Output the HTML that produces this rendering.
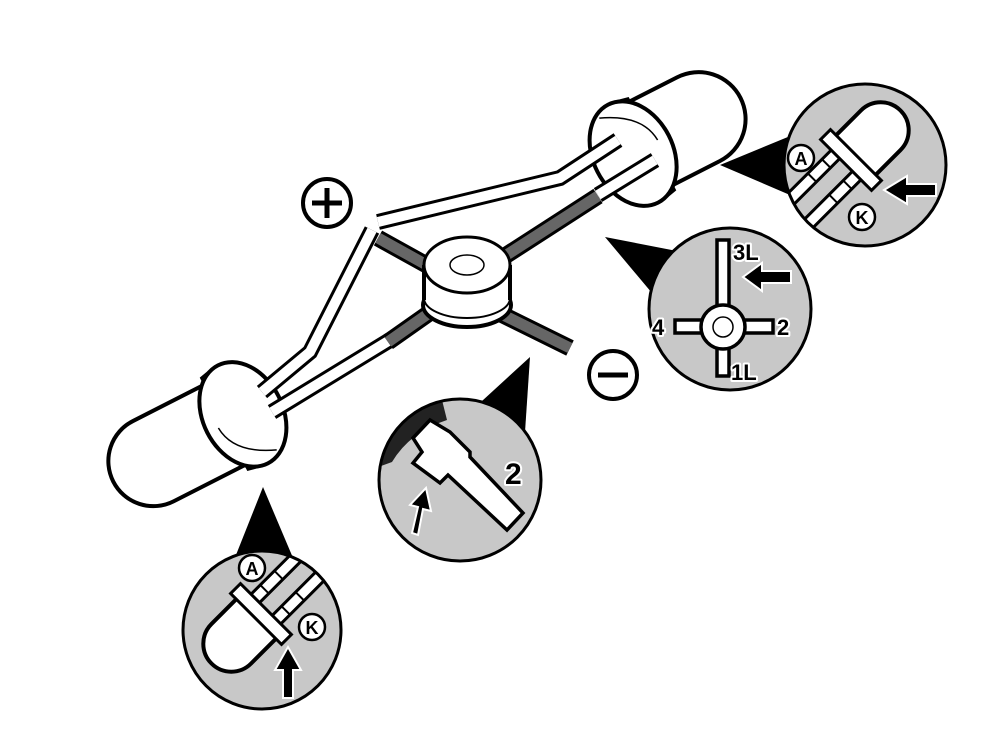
<!DOCTYPE html>
<html><head><meta charset="utf-8"><style>html,body{margin:0;padding:0;background:#fff}svg{display:block}
.lbl{font-family:"Liberation Sans",sans-serif;font-weight:bold;fill:#000;stroke:#fff;stroke-width:4;paint-order:stroke;stroke-linejoin:round}
.cl{font-family:"Liberation Sans",sans-serif;font-weight:bold;font-size:18px;text-anchor:middle;dominant-baseline:central}
</style></head><body>
<svg width="1000" height="750" viewBox="0 0 1000 750" xmlns="http://www.w3.org/2000/svg">
<defs>
<clipPath id="c1"><circle cx="865" cy="165" r="81"/></clipPath>
<clipPath id="c2"><circle cx="730" cy="309" r="81"/></clipPath>
<clipPath id="c3"><circle cx="460" cy="480" r="81"/></clipPath>
<clipPath id="c4"><circle cx="262" cy="630" r="79"/></clipPath>
<g id="mled">
  <path d="M0,-47 H68 A47,47 0 0 1 68,47 H0 Z" fill="#fff" stroke="#000" stroke-width="4"/>
  <path d="M-4,-54 L14,-50 L14,52 L-4,56" fill="#fff" stroke="#000" stroke-width="3.5"/>
  <ellipse cx="-6" cy="1" rx="40" ry="55" fill="#fff" stroke="#000" stroke-width="4"/>
  <path d="M-20,-46 Q20,-30 22,0" fill="none" stroke="#000" stroke-width="1.5"/>
</g>
<g id="mled2">
  <path d="M0,-45 H95 A45,45 0 0 1 95,45 H0 Z" fill="#fff" stroke="#000" stroke-width="4"/>
  <path d="M-4,-54 L14,-50 L14,52 L-4,56" fill="#fff" stroke="#000" stroke-width="3.5"/>
  <ellipse cx="-6" cy="1" rx="40" ry="55" fill="#fff" stroke="#000" stroke-width="4"/>
  <path d="M-20,-46 Q20,-30 22,0" fill="none" stroke="#000" stroke-width="1.5"/>
</g>
<g id="sled">
  <path d="M-5,-15 H-100 M-5,15 H-100" stroke="#000" stroke-width="15" fill="none"/>
  <path d="M-5,-15 H-100 M-5,15 H-100" stroke="#fff" stroke-width="9" fill="none"/>
  <path d="M-20,-20 v10 M-40,-20 v10 M-20,10 v10 M-40,10 v10" stroke="#000" stroke-width="2"/>
  <path d="M6,-28 H42 A28,28 0 0 1 42,28 H6 Z" fill="#fff" stroke="#000" stroke-width="4"/>
  <rect x="-7" y="-36" width="14" height="72" fill="#fff" stroke="#000" stroke-width="3"/>
</g>
</defs>

<path d="M720,165 L800,132 L797,198 Z" fill="#000"/>
<path d="M605,237 L682,252 L662,305 Z" fill="#000"/>
<path d="M530,357 L470,412 L525,432 Z" fill="#000"/>
<path d="M263,487 L232,565 L296,565 Z" fill="#000"/>

<use href="#mled" transform="translate(638,150) rotate(-27)"/>
<use href="#mled2" transform="translate(238,418) rotate(153)"/>

<g fill="none" stroke-linejoin="miter" stroke-linecap="butt">
<path d="M618,140 L560,178 L378,222 M372,230 L310,352 L262,392 M390,340 L272,412 M598,195 L655,160" stroke="#000" stroke-width="16"/>
<path d="M618,140 L560,178 L378,222 M372,230 L310,352 L262,392 M390,340 L272,412 M598,195 L655,160" stroke="#fff" stroke-width="10"/>
<path d="M378,238 L432,268 M505,256 L598,196 M442,304 L388,342 M497,312 L570,348" stroke="#000" stroke-width="17"/>
<path d="M378,238 L432,268 M505,256 L598,196 M442,304 L388,342 M497,312 L570,348" stroke="#666" stroke-width="11"/>
</g>

<ellipse cx="467" cy="305" rx="44" ry="22" fill="#fff" stroke="#000" stroke-width="4"/>
<rect x="424" y="265" width="86" height="38" fill="#fff"/>
<path d="M424,265 V300 M510,265 V300" stroke="#000" stroke-width="4"/>
<path d="M424,298 A43,20 0 0 0 510,298" fill="none" stroke="#000" stroke-width="2"/>
<ellipse cx="467" cy="265" rx="43" ry="28" fill="#fff" stroke="#000" stroke-width="3"/>
<ellipse cx="467" cy="265" rx="17" ry="10" fill="none" stroke="#000" stroke-width="1.5"/>

<circle cx="327" cy="203" r="24" fill="#fff" stroke="#000" stroke-width="4"/>
<path d="M312,203 H342 M327,188 V218" stroke="#000" stroke-width="5"/>
<circle cx="613" cy="375" r="24" fill="#fff" stroke="#000" stroke-width="4"/>
<path d="M598,375 H628" stroke="#000" stroke-width="5"/>

<circle cx="865" cy="165" r="81" fill="#c8c8c8"/>
<g clip-path="url(#c1)"><use href="#sled" transform="translate(851,160) rotate(-45)"/></g>
<circle cx="865" cy="165" r="81" fill="none" stroke="#000" stroke-width="3"/>
<circle cx="801" cy="158" r="13" fill="#fff" stroke="#000" stroke-width="2.5"/>
<text x="801" y="159" class="cl">A</text>
<circle cx="862" cy="217" r="13" fill="#fff" stroke="#000" stroke-width="2.5"/>
<text x="862" y="218" class="cl">K</text>
<path d="M936,184 H907 V176 L884,190 L907,204 V196 H936 Z" fill="#000" stroke="#fff" stroke-width="2"/>

<circle cx="730" cy="309" r="81" fill="#c8c8c8"/>
<g clip-path="url(#c2)">
<rect x="717" y="240" width="12" height="136" fill="#fff" stroke="#000" stroke-width="3.5"/>
<rect x="675" y="320" width="98" height="13" fill="#fff" stroke="#000" stroke-width="3.5"/>
<circle cx="723" cy="327" r="22" fill="#fff" stroke="#000" stroke-width="3.5"/>
<circle cx="723" cy="327" r="10" fill="#fff" stroke="#000" stroke-width="1.5"/>
</g>
<circle cx="730" cy="309" r="81" fill="none" stroke="#000" stroke-width="3"/>
<path d="M791,271 H762 V263 L743,277 L762,291 V283 H791 Z" fill="#000" stroke="#fff" stroke-width="2"/>
<text x="733" y="260" class="lbl" font-size="22">3L</text>
<text x="777" y="335" class="lbl" font-size="22">2</text>
<text x="652" y="335" class="lbl" font-size="22">4</text>
<text x="731" y="380" class="lbl" font-size="22">1L</text>

<circle cx="460" cy="480" r="81" fill="#c8c8c8"/>
<g clip-path="url(#c3)">
<path d="M370,470 Q385,418 440,392 L447,420 Q410,432 392,462 Z" fill="#222"/>
<path d="M430,420 L450,432 L470,452 L470,457 L523,513 L507,530 L448,475 L440,483 L413,463 L422,452 L413,438 Z" fill="#fff" stroke="#000" stroke-width="3.5"/>
</g>
<circle cx="460" cy="480" r="81" fill="none" stroke="#000" stroke-width="3"/>
<text x="505" y="484" class="lbl" font-size="30">2</text>
<path d="M412,533 L418,507 L410,505 L426,488 L431,511 L423,509 L418,535 Z" fill="#000" stroke="#fff" stroke-width="2"/>

<circle cx="262" cy="630" r="79" fill="#c8c8c8"/>
<g clip-path="url(#c4)"><use href="#sled" transform="translate(261,614) rotate(135)"/></g>
<circle cx="262" cy="630" r="79" fill="none" stroke="#000" stroke-width="3"/>
<circle cx="252" cy="568" r="13" fill="#fff" stroke="#000" stroke-width="2.5"/>
<text x="252" y="569" class="cl">A</text>
<circle cx="312" cy="627" r="13" fill="#fff" stroke="#000" stroke-width="2.5"/>
<text x="312" y="628" class="cl">K</text>
<path d="M283,698 V670 H275 L288,647 L301,670 H293 V698 Z" fill="#000" stroke="#fff" stroke-width="2"/>
</svg>
</body></html>
